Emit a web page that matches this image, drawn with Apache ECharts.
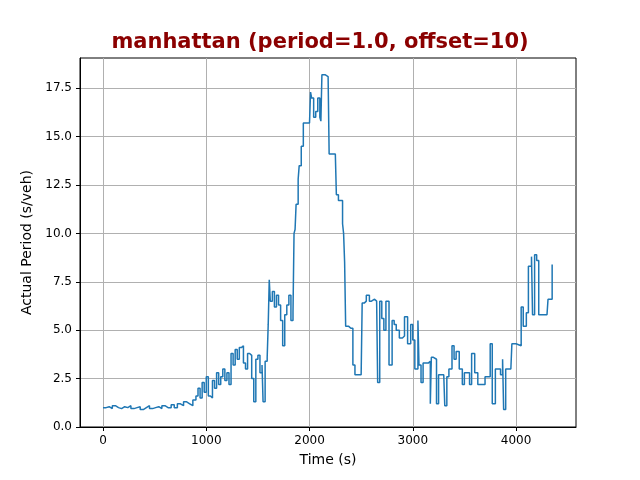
<!DOCTYPE html><html><head><meta charset="utf-8"><script src="https://cdn.jsdelivr.net/npm/echarts@6/dist/echarts.min.js"></script></head><body style="margin:0"><div id="c" style="width:640px;height:480px"></div><script>
const times=[0,30,60,90,120,150,180,210,240,270,300,330,360,390,420,450,480,510,540,570,600,630,660,690,720,750,780,810,840,870,900,920,940,960,980,1000,1020,1040,1060,1080,1100,1120,1140,1160,1180,1200,1220,1240,1260,1280,1300,1320,1340,1360,1380,1400,1420,1440,1460,1480,1500,1520,1540,1550,1570,1590,1600,1610,1620,1640,1660,1680,1700,1720,1740,1760,1780,1800,1820,1840,1850,1860,1870,1890,1900,1920,1940,1950,1970,2000,2010,2020,2040,2060,2080,2100,2110,2120,2150,2180,2190,2220,2250,2260,2280,2300,2320,2330,2340,2350,2380,2400,2420,2440,2470,2500,2510,2530,2550,2580,2600,2630,2650,2660,2680,2700,2720,2740,2770,2800,2820,2840,2870,2900,2920,2950,2980,3000,3020,3050,3060,3080,3100,3150,3170,3180,3200,3230,3250,3300,3310,3330,3350,3380,3400,3420,3450,3480,3500,3550,3570,3600,3630,3700,3750,3770,3800,3850,3870,3880,3900,3950,3960,4000,4050,4070,4100,4120,4150,4160,4180,4200,4220,4300,4310,4350];
const values=[1.0,1.05,0.95,1.1,1.0,0.95,1.05,1.0,1.1,0.95,1.0,1.05,0.9,1.0,1.1,0.95,1.0,1.05,0.95,1.1,1.0,1.0,1.15,1.0,1.2,1.1,1.3,1.2,1.1,1.4,1.6,2.0,1.5,2.3,1.8,2.6,1.6,1.5,2.4,2.0,2.8,2.2,2.6,3.0,2.4,2.8,2.2,3.8,3.2,4.0,3.5,4.1,4.2,3.3,3.0,3.8,3.7,2.5,1.3,3.5,3.7,2.8,3.2,1.3,3.4,3.6,5.3,7.6,6.5,7.0,6.2,6.8,6.3,5.5,4.2,5.8,6.3,6.8,5.5,5.9,10.0,10.2,11.5,12.8,13.5,14.5,15.7,15.7,15.7,15.7,17.3,17.0,16.0,16.3,17.0,16.0,15.8,18.2,18.1,18.1,14.1,14.1,14.1,12.0,11.7,11.7,10.5,10.0,8.5,5.2,5.1,5.1,3.2,2.7,2.7,2.6,6.4,6.5,6.8,6.5,6.6,6.5,6.4,2.3,6.5,5.6,5.0,6.5,3.2,5.5,5.3,5.0,4.6,4.7,5.7,4.3,5.3,4.5,3.0,5.5,3.2,2.3,3.3,3.4,1.2,3.6,3.5,1.2,2.7,2.8,1.1,2.6,3.0,4.2,3.5,3.9,3.0,2.2,2.8,2.2,3.8,2.8,2.2,2.6,4.3,1.2,3.0,2.7,3.5,0.9,3.0,3.0,4.3,4.2,6.2,5.2,5.9,8.3,8.8,5.8,8.9,8.6,5.8,5.8,6.6,8.4];
const xTicks=[0,1000,2000,3000,4000];
const yTicks=[0,2.5,5,7.5,10,12.5,15,17.5];
const data=times.map((t,i)=>[t,values[i]]);
const ax={axisLine:{show:true,onZero:false,lineStyle:{color:'#000'}},axisTick:{show:true,length:4,lineStyle:{color:'#000'}},axisLabel:{color:'#000',fontSize:12,fontFamily:'DejaVu Sans'},splitLine:{show:true,lineStyle:{color:'#b0b0b0'}},nameLocation:'middle',nameTextStyle:{color:'#000',fontSize:14,fontFamily:'DejaVu Sans'}};
const c=echarts.init(document.getElementById('c'));
c.setOption({animation:false,backgroundColor:'#fff',
title:{text:'manhattan (period=1.0, offset=10)',left:'center',top:27,textStyle:{color:'#8b0000',fontSize:21,fontWeight:'bold',fontFamily:'DejaVu Sans'}},
grid:{left:80,right:64,top:58,bottom:53,show:true,borderColor:'#000',borderWidth:1,backgroundColor:'transparent'},
xAxis:Object.assign({},ax,{type:'value',min:-223,max:4581,name:'Time (s)',nameGap:26,
 axisTick:Object.assign({},ax.axisTick,{customValues:xTicks}),axisLabel:Object.assign({},ax.axisLabel,{customValues:xTicks,formatter:v=>String(v)})}),
yAxis:Object.assign({},ax,{type:'value',min:0,max:19.06,name:'Actual Period (s/veh)',nameGap:44,
 axisTick:Object.assign({},ax.axisTick,{customValues:yTicks}),axisLabel:Object.assign({},ax.axisLabel,{customValues:yTicks,formatter:v=>v.toFixed(1)})}),
series:[{type:'line',step:'end',data:data,showSymbol:false,lineStyle:{color:'#1f77b4',width:1.5}}]});
</script></body></html>
